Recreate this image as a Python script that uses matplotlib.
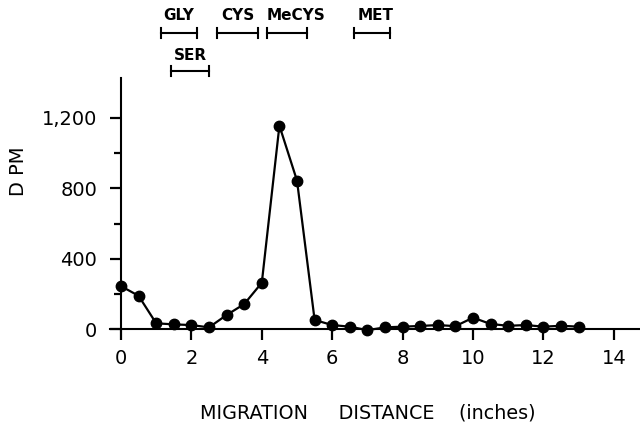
import matplotlib
matplotlib.use("Agg")
import matplotlib.pyplot as plt
from matplotlib.ticker import FixedLocator, FuncFormatter

# Data
distance = [0.0, 0.5, 1.0, 1.5, 2.0, 2.5, 3.0, 3.5, 4.0, 4.5, 5.0, 5.5, 6.0, 6.5,
            7.0, 7.5, 8.0, 8.5, 9.0, 9.5, 10.0, 10.5, 11.0, 11.5, 12.0, 12.5, 13.0]
dpm = [245, 190, 34, 28, 24, 11, 81, 143, 264, 1155, 843, 53, 24, 15,
       -5, 11, 15, 19, 24, 18, 66, 30, 20, 24, 15, 20, 15]

amino_names = ["GLY", "CYS", "MeCYS", "MET", "SER"]
amino_start = [1.13, 2.72, 4.16, 6.62, 1.41]
amino_end = [2.15, 3.90, 5.29, 7.65, 2.51]
amino_label_x = [1.64, 3.31, 4.96, 7.24, 1.96]
amino_row = [0, 0, 0, 0, 1]

x_major = [0, 2, 4, 6, 8, 10, 12, 14]
y_major = [0, 400, 800, 1200]
y_minor = [200, 600, 1000]

fig = plt.figure(figsize=(6.4, 4.23), dpi=100)
ax = fig.add_axes([0.1725, 0.2215, 0.828, 0.594])

ax.plot(distance, dpm, color="black", lw=1.6, marker="o", ms=7.5,
        mfc="black", mec="black", clip_on=False, zorder=3)

ax.set_xlim(-0.3, 14.75)
ax.set_ylim(0, 1425)

for s in ["top", "right"]:
    ax.spines[s].set_visible(False)
ax.spines["left"].set_position(("data", 0))
ax.spines["left"].set_linewidth(1.5)
ax.spines["bottom"].set_linewidth(1.5)

ax.xaxis.set_major_locator(FixedLocator(x_major))
ax.yaxis.set_major_locator(FixedLocator(y_major))
ax.yaxis.set_minor_locator(FixedLocator(y_minor))
ax.yaxis.set_major_formatter(FuncFormatter(lambda v, p: "{:,}".format(int(v))))

ax.tick_params(axis="x", which="major", direction="out", length=8, width=1.6,
               labelsize=14, pad=6)
ax.tick_params(axis="y", which="major", direction="out", length=8, width=1.6,
               labelsize=14, pad=9)
ax.tick_params(axis="y", which="minor", direction="out", length=5, width=1.6)

fig.text(19 / 640, 1 - 171 / 423, "D PM", rotation=90, ha="center", va="center",
         fontsize=14)
fig.text(368 / 640, 1 - 418 / 423, "MIGRATION     DISTANCE    (inches)",
         ha="center", va="baseline", fontsize=13.8)

# amino acid reference bars above the plot
bar_y = [1681, 1467]
lab_y = [1777, 1555]
cap = 28
for name, s, e, lx, r in zip(amino_names, amino_start, amino_end,
                             amino_label_x, amino_row):
    yb = bar_y[r]
    ax.plot([s, e], [yb, yb], color="black", lw=1.5, clip_on=False)
    ax.plot([s, s], [yb - cap, yb + cap], color="black", lw=1.5, clip_on=False)
    ax.plot([e, e], [yb - cap, yb + cap], color="black", lw=1.5, clip_on=False)
    ax.text(lx, lab_y[r], name, ha="center", va="center",
            fontsize=11, fontweight="bold", clip_on=False)

fig.savefig("out.png", dpi=100)
